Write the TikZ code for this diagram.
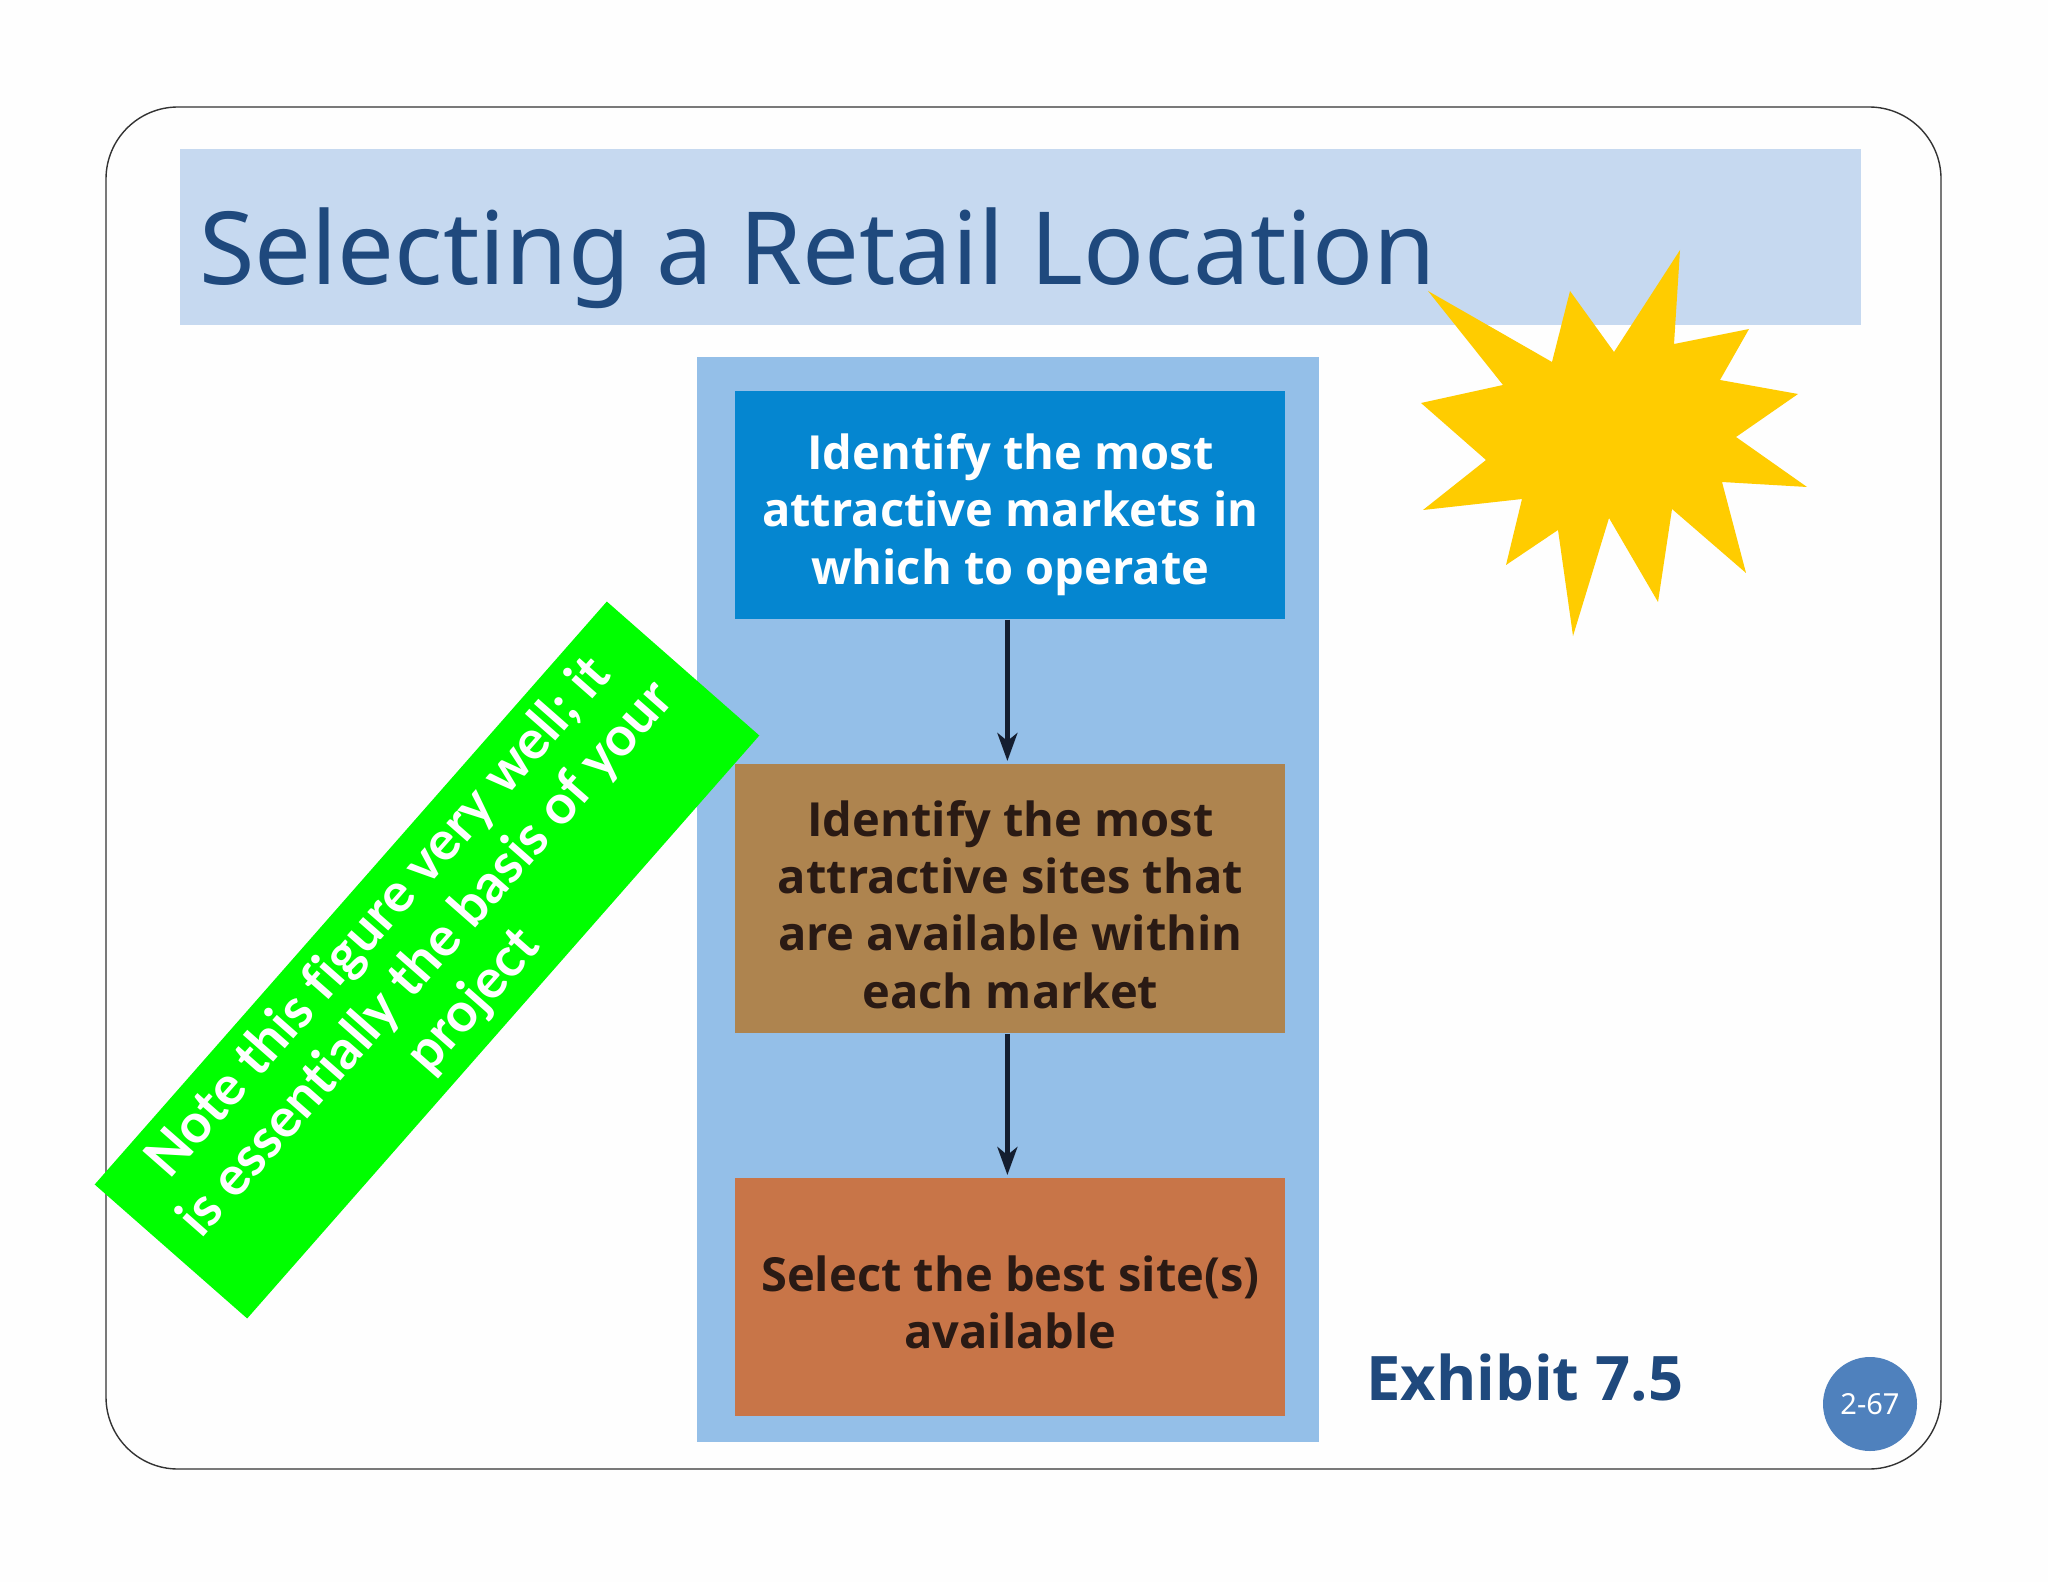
\documentclass[tikz,border=0pt]{standalone}
\usepackage{fontspec}
\setmainfont{DejaVu Sans}
\newfontfamily\titlefont{Noto Sans}
\newfontfamily\boxfont[Ligatures=NoCommon]{Open Sans}
\newfontfamily\notefont[Ligatures=NoCommon]{Lato}
\usetikzlibrary{arrows.meta}
\definecolor{pagebg}{HTML}{FEFEFE}
\definecolor{band}{HTML}{C6D9F0}
\definecolor{navy}{HTML}{1F497D}
\definecolor{panel}{HTML}{94BFE8}
\definecolor{boxa}{HTML}{0586D0}
\definecolor{boxb}{HTML}{AE844F}
\definecolor{boxc}{HTML}{C87548}
\definecolor{inkdark}{HTML}{2A1A14}
\definecolor{arrowink}{HTML}{141E30}
\definecolor{starfill}{HTML}{FFCC00}
\definecolor{notegreen}{HTML}{00FF00}
\definecolor{badge}{HTML}{4F81BD}
\tikzset{
  stepbox/.style={rectangle,inner sep=0pt,minimum width=275pt,align=center,
    font=\boxfont\bfseries\fontsize{23.5}{28.7}\selectfont},
  flowarrow/.style={draw=arrowink,line width=2.2pt,shorten >=1.5pt,
    -{Stealth[length=14pt,width=10pt,inset=4pt]}}
}
\begin{document}
\begin{tikzpicture}[x=0.5pt,y=-0.5pt]
\useasboundingbox (0,0) rectangle (2048,1582);
\fill[pagebg] (0,0) rectangle (2048,1582);
\draw[black!80,line width=0.7pt,rounded corners=36pt] (106,107) rectangle (1941,1469);
\node[fill=band,minimum width=840.5pt,minimum height=88pt,inner sep=0pt,anchor=north west] (titleband) at (180,149) {};
\node[anchor=base west,inner sep=0pt,text=navy,font=\titlefont\fontsize{50.5}{55}\selectfont] (title) at (199,285) {Selecting a Retail Location};
\node[fill=panel,minimum width=311pt,minimum height=542.5pt,inner sep=0pt,anchor=north west] (panelbg) at (697,357) {};
\node[stepbox,fill=boxa,text=white,minimum height=114pt,anchor=north west] (stepa) at (735,391) {\rule{0pt}{27pt}Identify the most\\attractive markets in\\which to operate};
\node[stepbox,fill=boxb,text=inkdark,minimum height=134.5pt,anchor=north west] (stepb) at (735,764) {\rule{0pt}{23.5pt}Identify the most\\attractive sites that\\are available within\\each market};
\node[stepbox,fill=boxc,text=inkdark,minimum height=119pt,anchor=north west] (stepc) at (735,1178) {\rule{0pt}{23pt}Select the best site(s)\\available};
\draw[flowarrow] ([xshift=-1.5pt]stepa.south) -- ([xshift=-1.5pt]stepb.north);
\draw[flowarrow] ([xshift=-1.5pt]stepb.south) -- ([xshift=-1.5pt]stepc.north);
\fill[starfill] (1428,291) -- (1552,362) -- (1570,291) -- (1614,352) -- (1680,250) -- (1674,344) -- (1749,329) -- (1720,380) -- (1798,394) -- (1736,437) -- (1807,487) -- (1722,482) -- (1746,573) -- (1672,509) -- (1658,602) -- (1609,518) -- (1573,636) -- (1558,530) -- (1506,565) -- (1522,499) -- (1423,510) -- (1486,460) -- (1421,403) -- (1503,385) -- cycle;
\node[fill=notegreen,text=white,rotate=48.7,minimum width=388pt,minimum height=101.5pt,inner sep=0pt,align=center,font=\notefont\bfseries\fontsize{27.2}{31.5}\selectfont] (note) at (427,960) {Note this figure very well; it\\is essentially the basis of your\\project};
\node[anchor=base west,inner sep=0pt,text=navy,font=\boxfont\bfseries\fontsize{30.7}{32}\selectfont] (exhibit) at (1366,1400) {Exhibit 7.5};
\node[circle,fill=badge,text=white,minimum size=47pt,inner sep=0pt,font=\titlefont\fontsize{14.5}{18}\selectfont] (pagenum) at (1870,1404) {2-67};
\end{tikzpicture}
\end{document}
